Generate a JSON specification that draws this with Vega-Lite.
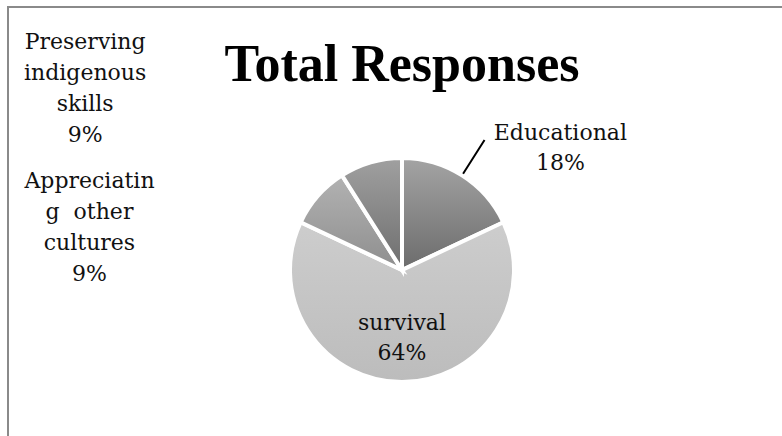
{
  "$schema": "https://vega.github.io/schema/vega-lite/v6.json",
  "width": 788,
  "height": 526,
  "autosize": {"type": "none"},
  "padding": {"left": 8, "top": 7, "right": 0, "bottom": 0},
  "background": "white",
  "view": {"stroke": "#8a8a8a", "strokeWidth": 2},
  "config": {"view": {"stroke": "#8a8a8a", "strokeWidth": 2}},
  "title": {
    "text": "Total Responses",
    "font": "Liberation Serif",
    "fontSize": 52,
    "fontWeight": "bold",
    "color": "black",
    "anchor": "middle",
    "baseline": "alphabetic",
    "offset": -126
  },
  "data": {
    "values": [
      {"category": "Educational", "percent": 18, "idx": 1, "lines": ["Educational", "18%"]},
      {"category": "survival", "percent": 64, "idx": 2, "lines": ["survival", "64%"]},
      {"category": "Appreciating other cultures", "percent": 9, "idx": 3, "lines": ["Appreciatin", "g\u00a0 other", "cultures", "9%"]},
      {"category": "Preserving indigenous skills", "percent": 9, "idx": 4, "lines": ["Preserving", "indigenous", "skills", "9%"]}
    ]
  },
  "encoding": {
    "theta": {"field": "percent", "type": "quantitative", "stack": true},
    "order": {"field": "idx", "type": "quantitative"}
  },
  "layer": [
    {
      "mark": {"type": "arc", "outerRadius": 112, "stroke": "white", "strokeWidth": 4},
      "encoding": {
        "fill": {
          "condition": [
            {"test": "datum.category === 'Educational'", "value": {"gradient": "linear", "x1": 0, "y1": 0, "x2": 0, "y2": 1, "stops": [{"offset": 0, "color": "#a4a4a4"}, {"offset": 1, "color": "#6c6c6c"}]}},
            {"test": "datum.category === 'Appreciating other cultures'", "value": {"gradient": "linear", "x1": 0, "y1": 0, "x2": 0, "y2": 1, "stops": [{"offset": 0, "color": "#b2b2b2"}, {"offset": 1, "color": "#8e8e8e"}]}},
            {"test": "datum.category === 'Preserving indigenous skills'", "value": {"gradient": "linear", "x1": 0, "y1": 0, "x2": 0, "y2": 1, "stops": [{"offset": 0, "color": "#a0a0a0"}, {"offset": 1, "color": "#6e6e6e"}]}}
          ],
          "value": {"gradient": "linear", "x1": 0, "y1": 0, "x2": 0, "y2": 1, "stops": [{"offset": 0, "color": "#cdcdcd"}, {"offset": 1, "color": "#bcbcbc"}]}
        }
      }
    },
    {
      "mark": {"type": "arc", "innerRadius": 114, "outerRadius": 154, "padAngle": 3.14, "fillOpacity": 0, "strokeWidth": 2},
      "encoding": {
        "stroke": {"condition": {"test": "datum.category === 'Educational'", "value": "black"}, "value": "transparent"}
      }
    },
    {
      "mark": {"type": "text", "radius": 53, "font": "DejaVu Serif", "fontSize": 22, "lineHeight": 30, "baseline": "middle", "align": "center", "color": "#111"},
      "encoding": {"text": {"condition": {"test": "datum.category === 'survival'", "field": "lines"}, "value": ""}}
    },
    {
      "mark": {"type": "text", "radius": 150, "dx": 78, "dy": -10, "font": "DejaVu Serif", "fontSize": 22, "lineHeight": 30, "baseline": "middle", "align": "center", "color": "#111"},
      "encoding": {"text": {"condition": {"test": "datum.category === 'Educational'", "field": "lines"}, "value": ""}}
    },
    {
      "mark": {"type": "text", "radius": 150, "dx": -200, "dy": 10, "font": "DejaVu Serif", "fontSize": 22, "lineHeight": 31, "baseline": "middle", "align": "center", "color": "#111"},
      "encoding": {"text": {"condition": {"test": "datum.category === 'Appreciating other cultures'", "field": "lines"}, "value": ""}}
    },
    {
      "mark": {"type": "text", "radius": 150, "dx": -275, "dy": -84, "font": "DejaVu Serif", "fontSize": 22, "lineHeight": 31, "baseline": "middle", "align": "center", "color": "#111"},
      "encoding": {"text": {"condition": {"test": "datum.category === 'Preserving indigenous skills'", "field": "lines"}, "value": ""}}
    }
  ]
}
